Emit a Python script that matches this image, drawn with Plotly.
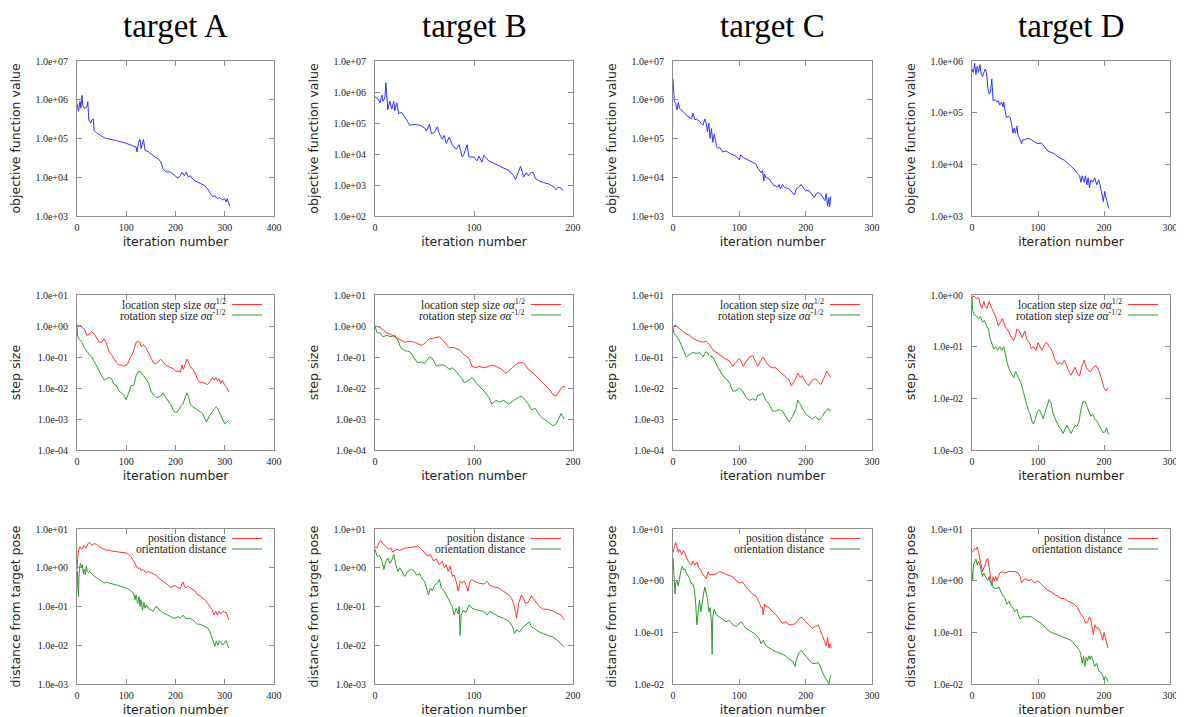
import plotly.graph_objects as go

# ---------------- data (iteration, value) ----------------
A_obj = [(0,8e5),(3,5e5),(6,9e5),(8,6e5),(10,1.3e6),(12,7e5),(15,6e5),(20,6.5e5),(22,9e5),(24,3e5),(28,2.5e5),(30,3e5),(33,3.2e5),(35,1.6e5),(40,1.4e5),(50,1.15e5),(55,1.05e5),(60,1.0e5),(70,9.5e4),(80,8.8e4),(100,7.5e4),(110,6.8e4),(120,6e4),(122,4.5e4),(125,8e4),(128,9.5e4),(130,5.5e4),(135,9.5e4),(138,5e4),(145,4.5e4),(150,4e4),(160,3.2e4),(165,3e4),(170,2.5e4),(175,1.6e4),(180,1.4e4),(190,1.35e4),(200,1.1e4),(205,9.5e3),(210,1.1e4),(213,1.35e4),(218,1.1e4),(222,1.35e4),(226,1.0e4),(230,1.1e4),(235,9e3),(240,8e3),(250,7e3),(260,6e3),(265,5e3),(270,4e3),(275,3.2e3),(280,3.3e3),(285,2.8e3),(290,3e3),(295,2.6e3),(300,2.8e3),(303,2.3e3),(305,2.8e3),(308,2e3),(310,1.8e3)]
B_obj = [(0,7e5),(3,6e5),(5,4.5e5),(7,8e5),(8,5e5),(10,6.5e5),(11,2e6),(12,6e5),(13,2.7e5),(15,5e5),(17,2.8e5),(19,5e5),(20,2.5e5),(22,4.5e5),(24,2e5),(27,2.2e5),(30,1.6e5),(33,1.1e5),(35,8.5e4),(40,9e4),(45,8.5e4),(50,7e4),(52,5.5e4),(55,9e4),(57,4.5e4),(60,5e4),(63,7.5e4),(65,4.5e4),(68,3e4),(70,4e4),(72,2.2e4),(75,3.5e4),(78,2e4),(82,1.4e4),(85,2e4),(88,8e3),(90,1e4),(93,2e4),(95,8e3),(100,8e3),(103,6e3),(105,8.5e3),(108,5.5e3),(110,9e3),(115,6e3),(120,5e3),(125,4e3),(130,3.5e3),(135,3e3),(140,2e3),(142,1.5e3),(145,3e3),(147,4e3),(149,2.5e3),(150,1.8e3),(153,2.5e3),(155,2e3),(158,2.6e3),(160,2.5e3),(162,1.6e3),(165,1.4e3),(170,1.2e3),(175,1.1e3),(180,9e2),(183,7e2),(185,8.5e2),(188,8e2),(190,6.5e2)]
C_obj = [(0,3.5e6),(1,1.5e6),(2,9e5),(4,8e5),(6,5.5e5),(8,8.5e5),(10,6e5),(12,5.5e5),(15,5e5),(18,4.5e5),(20,4e5),(25,3.5e5),(28,3.2e5),(30,4.5e5),(33,3e5),(35,3.2e5),(40,2.8e5),(42,2.5e5),(45,2.2e5),(48,3.2e5),(50,2.5e5),(52,1.5e5),(54,2.5e5),(56,1e5),(58,1.8e5),(60,8e4),(62,1.3e5),(64,9e4),(66,6e4),(68,5.5e4),(70,6e4),(75,4.5e4),(80,4.8e4),(85,4.2e4),(90,3.8e4),(95,3.5e4),(100,2.8e4),(102,3.8e4),(105,3.3e4),(110,3e4),(120,2.5e4),(125,2.2e4),(128,1.7e4),(133,1.3e4),(135,1.5e4),(137,8e3),(138,1.2e4),(140,1e4),(145,9e3),(150,7e3),(152,6e3),(155,6e3),(158,5.5e3),(160,6.5e3),(162,5e3),(165,6.5e3),(168,5.5e3),(175,5e3),(180,4e3),(183,3.5e3),(186,5e3),(190,5.5e3),(193,6.5e3),(196,5.5e3),(200,4.5e3),(205,4.5e3),(210,3.5e3),(213,3e3),(215,3.5e3),(218,4e3),(222,3.8e3),(226,3e3),(229,2.5e3),(231,3.8e3),(233,1.8e3),(235,3e3),(236,1.7e3),(238,3.2e3)]
D_obj = [(0,7e5),(2,6e5),(4,9e5),(6,5.5e5),(8,8e5),(10,6e5),(12,8.5e5),(14,5.5e5),(16,5e5),(18,6e5),(20,7e5),(22,6e5),(24,3e5),(26,2.3e5),(28,2.5e5),(30,4.5e5),(31,2e5),(32,1.7e5),(35,1.8e5),(38,1.6e5),(40,1.7e5),(42,1.4e5),(45,1.6e5),(47,1.3e5),(48,1.6e5),(50,1e5),(52,8e4),(55,8.5e4),(58,8e4),(60,6e4),(62,4e4),(64,5e4),(66,4e4),(68,5.5e4),(70,3.5e4),(73,3e4),(75,2.5e4),(77,3e4),(80,3e4),(85,3.2e4),(90,3e4),(95,2.7e4),(100,2.5e4),(105,2.6e4),(110,2.2e4),(115,1.8e4),(120,1.7e4),(125,1.6e4),(130,1.4e4),(135,1.3e4),(140,1.2e4),(145,1.05e4),(150,9e3),(155,8e3),(160,6.5e3),(163,6e3),(165,4.5e3),(167,6e3),(170,4.5e3),(172,6e3),(174,4e3),(176,5.5e3),(178,3.5e3),(180,5e3),(183,4.5e3),(186,5.5e3),(189,4e3),(192,5e3),(194,4e3),(196,3e3),(198,2.2e3),(199,1.9e3),(201,3e3),(203,2.3e3),(205,2e3),(206,1.7e3),(207,1.4e3)]

A_loc = [(0,1.1),(5,1.0),(8,1.05),(10,0.9),(15,0.8),(20,0.5),(25,0.55),(30,0.65),(35,0.55),(40,0.4),(45,0.3),(50,0.3),(55,0.38),(58,0.33),(62,0.2),(65,0.15),(70,0.12),(75,0.09),(80,0.065),(85,0.055),(90,0.055),(95,0.05),(100,0.055),(103,0.06),(107,0.09),(112,0.12),(117,0.2),(120,0.3),(125,0.32),(128,0.3),(130,0.22),(135,0.25),(140,0.2),(145,0.14),(150,0.1),(155,0.065),(160,0.06),(165,0.07),(170,0.085),(175,0.07),(180,0.055),(185,0.05),(190,0.045),(195,0.042),(200,0.035),(205,0.035),(210,0.033),(213,0.055),(216,0.04),(220,0.06),(223,0.085),(226,0.07),(230,0.05),(235,0.04),(240,0.03),(245,0.018),(250,0.015),(255,0.015),(260,0.014),(265,0.013),(270,0.016),(275,0.022),(278,0.018),(282,0.022),(285,0.017),(288,0.02),(292,0.014),(295,0.018),(300,0.012),(305,0.01),(308,0.0075)]
A_rot = [(0,1.0),(1,0.5),(3,0.4),(6,0.35),(10,0.3),(15,0.2),(20,0.15),(25,0.12),(30,0.1),(35,0.07),(40,0.05),(45,0.035),(50,0.025),(55,0.018),(60,0.02),(65,0.022),(70,0.02),(75,0.013),(80,0.012),(85,0.008),(90,0.007),(95,0.006),(100,0.0042),(105,0.007),(110,0.012),(115,0.012),(120,0.025),(125,0.035),(130,0.032),(135,0.025),(140,0.02),(145,0.015),(150,0.008),(155,0.006),(160,0.005),(165,0.005),(170,0.0055),(175,0.007),(180,0.005),(185,0.004),(190,0.003),(195,0.002),(200,0.0016),(205,0.0018),(210,0.0025),(215,0.003),(220,0.005),(223,0.007),(227,0.005),(230,0.003),(235,0.0025),(240,0.0022),(245,0.002),(250,0.0018),(255,0.0015),(260,0.001),(263,0.0008),(268,0.0012),(273,0.0015),(278,0.002),(282,0.0025),(285,0.0023),(290,0.0015),(295,0.001),(300,0.0007),(305,0.0008),(308,0.0009)]
B_loc = [(0,1.0),(5,0.9),(8,0.75),(12,0.6),(15,0.55),(20,0.45),(25,0.35),(30,0.3),(35,0.32),(40,0.3),(45,0.25),(48,0.24),(52,0.32),(55,0.38),(58,0.4),(62,0.42),(65,0.45),(70,0.3),(75,0.2),(80,0.2),(85,0.17),(90,0.12),(95,0.09),(98,0.05),(102,0.045),(105,0.05),(110,0.045),(115,0.05),(118,0.055),(122,0.05),(125,0.045),(128,0.04),(132,0.03),(135,0.035),(140,0.05),(145,0.065),(150,0.065),(155,0.04),(160,0.03),(165,0.02),(170,0.014),(175,0.01),(180,0.006),(183,0.0055),(186,0.008),(189,0.011),(192,0.011)]
B_rot = [(0,1.0),(2,0.6),(5,0.6),(8,0.45),(12,0.5),(16,0.45),(20,0.5),(23,0.35),(26,0.2),(30,0.16),(35,0.15),(40,0.09),(43,0.065),(47,0.07),(50,0.06),(52,0.075),(55,0.1),(58,0.09),(62,0.05),(65,0.055),(70,0.055),(75,0.04),(78,0.045),(82,0.035),(85,0.025),(88,0.02),(90,0.015),(95,0.018),(98,0.022),(102,0.015),(105,0.012),(110,0.008),(115,0.005),(118,0.003),(122,0.004),(126,0.0035),(130,0.004),(135,0.003),(140,0.004),(145,0.005),(148,0.0055),(152,0.004),(155,0.003),(158,0.002),(162,0.0022),(165,0.0015),(170,0.001),(175,0.0008),(180,0.0006),(183,0.0007),(186,0.0012),(188,0.0015),(191,0.001)]
C_loc = [(0,0.9),(3,1.1),(5,1.0),(10,0.8),(15,0.65),(20,0.55),(25,0.5),(30,0.4),(35,0.35),(40,0.32),(45,0.3),(50,0.32),(55,0.25),(60,0.17),(65,0.14),(70,0.12),(75,0.1),(80,0.085),(85,0.075),(90,0.05),(95,0.07),(100,0.09),(103,0.07),(106,0.05),(110,0.07),(115,0.1),(120,0.11),(125,0.07),(128,0.05),(132,0.075),(136,0.1),(140,0.07),(145,0.05),(150,0.045),(155,0.045),(160,0.035),(165,0.028),(170,0.022),(175,0.018),(178,0.012),(182,0.015),(185,0.02),(188,0.03),(192,0.022),(195,0.025),(200,0.015),(205,0.012),(210,0.018),(215,0.02),(220,0.015),(223,0.013),(227,0.02),(232,0.035),(236,0.025),(238,0.022)]
C_rot = [(0,0.9),(1,0.6),(3,0.55),(8,0.4),(12,0.25),(16,0.15),(20,0.1),(25,0.12),(30,0.14),(35,0.13),(40,0.14),(45,0.1),(50,0.15),(55,0.11),(60,0.1),(65,0.06),(70,0.04),(75,0.025),(80,0.02),(85,0.015),(90,0.008),(95,0.008),(100,0.01),(105,0.008),(110,0.005),(115,0.004),(120,0.0045),(125,0.004),(128,0.006),(132,0.006),(135,0.007),(140,0.004),(145,0.003),(150,0.0018),(155,0.0018),(160,0.002),(165,0.0018),(170,0.0012),(175,0.0008),(180,0.0012),(185,0.002),(188,0.004),(192,0.003),(196,0.002),(200,0.0015),(205,0.0012),(210,0.001),(215,0.0012),(220,0.0009),(225,0.0012),(230,0.0018),(234,0.0022),(236,0.0018),(238,0.002)]
D_loc = [(0,0.9),(3,0.95),(7,0.85),(10,0.9),(12,0.7),(15,0.55),(18,0.75),(20,0.6),(23,0.55),(26,0.75),(30,0.55),(33,0.45),(36,0.38),(40,0.25),(43,0.3),(46,0.35),(50,0.25),(55,0.2),(60,0.15),(63,0.13),(66,0.16),(68,0.22),(72,0.2),(76,0.15),(80,0.2),(83,0.14),(87,0.12),(90,0.09),(93,0.1),(97,0.085),(100,0.12),(103,0.1),(106,0.085),(110,0.11),(113,0.12),(117,0.1),(120,0.09),(123,0.07),(126,0.055),(130,0.045),(133,0.05),(136,0.045),(140,0.055),(143,0.045),(146,0.035),(150,0.028),(153,0.033),(156,0.04),(160,0.03),(163,0.027),(166,0.04),(170,0.055),(173,0.04),(176,0.035),(180,0.033),(184,0.04),(188,0.043),(192,0.035),(195,0.027),(198,0.02),(200,0.016),(203,0.014),(206,0.016)]
D_rot = [(0,0.9),(1,0.5),(3,0.42),(6,0.4),(10,0.35),(13,0.38),(16,0.3),(19,0.32),(22,0.25),(25,0.22),(27,0.15),(30,0.12),(33,0.09),(36,0.1),(39,0.085),(42,0.1),(45,0.085),(48,0.1),(51,0.065),(54,0.045),(57,0.035),(60,0.03),(63,0.025),(66,0.033),(70,0.025),(74,0.02),(78,0.013),(82,0.008),(85,0.006),(88,0.005),(91,0.0035),(93,0.0032),(96,0.004),(99,0.0055),(102,0.006),(105,0.005),(108,0.004),(111,0.0055),(114,0.007),(117,0.0095),(120,0.008),(123,0.005),(126,0.004),(129,0.0032),(132,0.0028),(135,0.0025),(138,0.0021),(141,0.0025),(144,0.003),(147,0.0025),(150,0.0021),(153,0.0025),(156,0.003),(159,0.0028),(162,0.0035),(165,0.006),(168,0.0085),(171,0.0088),(174,0.007),(177,0.006),(180,0.0045),(183,0.005),(186,0.004),(190,0.0035),(195,0.0027),(198,0.0022),(201,0.0022),(204,0.0027),(206,0.0021),(208,0.002)]

A_pos = [(0,0.9),(1,1.5),(2,2.2),(4,3.0),(6,3.5),(10,3.0),(14,3.8),(18,3.2),(22,4.2),(26,4.5),(30,3.8),(35,4.2),(40,4.0),(45,3.5),(50,3.3),(55,3.0),(60,2.8),(65,2.9),(70,2.7),(80,2.6),(90,2.5),(100,2.4),(105,2.2),(110,1.9),(115,1.5),(118,1.2),(122,1.0),(125,0.95),(128,1.0),(130,0.85),(135,0.9),(140,0.75),(145,0.8),(150,0.75),(155,0.7),(160,0.65),(165,0.55),(170,0.5),(175,0.45),(180,0.41),(185,0.36),(190,0.31),(195,0.33),(200,0.35),(205,0.3),(210,0.3),(215,0.43),(220,0.3),(225,0.33),(230,0.3),(235,0.28),(240,0.25),(245,0.2),(250,0.19),(255,0.16),(260,0.15),(265,0.12),(270,0.1),(275,0.08),(278,0.06),(282,0.075),(285,0.06),(288,0.075),(292,0.065),(296,0.075),(300,0.07),(303,0.07),(306,0.055),(308,0.045)]
A_ori = [(0,0.3),(1,0.8),(2,0.3),(3,0.18),(4,0.5),(5,1.0),(7,1.3),(9,1.0),(11,1.2),(13,0.7),(15,0.9),(17,0.65),(19,1.1),(21,0.8),(23,0.75),(26,0.8),(30,0.7),(35,0.6),(40,0.55),(45,0.5),(50,0.45),(55,0.4),(60,0.42),(65,0.4),(70,0.38),(80,0.36),(90,0.33),(100,0.3),(105,0.28),(110,0.25),(115,0.22),(118,0.15),(120,0.2),(123,0.12),(126,0.18),(128,0.1),(130,0.15),(133,0.08),(136,0.13),(138,0.09),(141,0.11),(145,0.09),(150,0.08),(155,0.075),(160,0.1),(165,0.09),(170,0.075),(175,0.07),(180,0.065),(185,0.06),(190,0.055),(195,0.05),(200,0.05),(205,0.055),(210,0.05),(215,0.06),(220,0.05),(225,0.048),(230,0.05),(235,0.045),(240,0.04),(245,0.035),(250,0.035),(255,0.032),(260,0.03),(265,0.028),(270,0.022),(275,0.015),(278,0.011),(280,0.0095),(283,0.013),(286,0.01),(289,0.013),(292,0.012),(295,0.01),(300,0.012),(303,0.013),(306,0.01),(308,0.0085)]
B_pos = [(0,3.5),(2,3.2),(4,4.5),(6,5.0),(8,4.2),(10,3.8),(12,3.5),(14,3.0),(16,3.3),(18,2.5),(20,2.8),(22,3.0),(25,2.8),(28,3.0),(30,3.2),(35,3.3),(40,3.5),(43,3.6),(46,3.2),(50,2.5),(53,2.0),(56,2.2),(59,1.5),(62,1.7),(65,1.2),(68,1.5),(70,1.0),(72,1.2),(74,0.8),(76,1.1),(78,0.6),(80,0.65),(82,0.45),(84,0.25),(86,0.45),(88,0.4),(90,0.45),(92,0.35),(94,0.25),(96,0.45),(98,0.5),(100,0.45),(105,0.4),(110,0.38),(113,0.45),(116,0.35),(120,0.32),(125,0.3),(130,0.25),(135,0.2),(138,0.16),(140,0.12),(142,0.07),(143,0.05),(145,0.12),(148,0.2),(150,0.16),(152,0.12),(155,0.13),(158,0.19),(160,0.16),(163,0.13),(166,0.1),(170,0.085),(175,0.085),(180,0.075),(185,0.065),(188,0.06),(190,0.05),(191,0.045)]
B_ori = [(0,3.0),(2,2.0),(5,2.0),(7,1.5),(9,0.9),(11,1.5),(13,1.8),(15,1.3),(17,1.6),(19,2.2),(21,1.2),(23,0.8),(25,1.0),(28,0.75),(30,0.6),(33,0.8),(36,0.9),(39,0.85),(42,0.65),(45,0.7),(48,0.5),(50,0.45),(52,0.3),(54,0.2),(56,0.3),(58,0.25),(60,0.35),(63,0.4),(65,0.5),(67,0.3),(70,0.25),(73,0.18),(76,0.12),(78,0.1),(80,0.06),(82,0.09),(84,0.065),(85,0.1),(86,0.018),(87,0.06),(89,0.08),(92,0.07),(95,0.11),(98,0.09),(100,0.085),(105,0.08),(110,0.075),(113,0.06),(116,0.075),(120,0.065),(125,0.055),(130,0.05),(133,0.045),(136,0.04),(139,0.03),(141,0.02),(143,0.025),(146,0.022),(150,0.03),(153,0.035),(156,0.04),(158,0.03),(162,0.025),(166,0.022),(170,0.02),(175,0.018),(180,0.016),(185,0.013),(188,0.011),(191,0.009)]
C_pos = [(0,3.5),(2,4.5),(4,5.5),(6,4.5),(8,3.5),(10,4.0),(13,3.2),(16,3.8),(19,3.0),(22,2.5),(25,2.2),(28,2.0),(30,2.4),(33,2.0),(36,2.3),(39,1.8),(42,1.6),(45,1.3),(48,1.2),(50,1.1),(53,1.5),(55,1.3),(60,1.3),(65,1.35),(70,1.5),(75,1.4),(80,1.3),(85,1.25),(90,1.2),(95,1.0),(100,0.9),(105,0.95),(110,0.75),(115,0.65),(120,0.55),(125,0.5),(130,0.38),(133,0.3),(135,0.3),(136,0.22),(138,0.35),(140,0.32),(145,0.3),(150,0.25),(155,0.22),(160,0.18),(165,0.15),(170,0.16),(175,0.14),(180,0.14),(185,0.15),(190,0.18),(193,0.2),(197,0.18),(200,0.16),(205,0.14),(210,0.12),(215,0.13),(219,0.14),(222,0.11),(225,0.09),(228,0.07),(231,0.055),(233,0.08),(235,0.05),(237,0.06),(238,0.05)]
C_ori = [(0,2.8),(1,1.5),(2,0.9),(3,0.55),(4,0.9),(6,1.0),(8,0.8),(10,1.2),(12,1.6),(14,1.9),(16,1.6),(18,1.7),(20,1.4),(22,1.3),(25,1.1),(27,0.9),(30,0.85),(32,0.7),(34,0.4),(36,0.14),(38,0.3),(40,0.42),(42,0.25),(44,0.4),(46,0.55),(48,0.75),(50,0.6),(52,0.45),(54,0.25),(56,0.3),(58,0.15),(59,0.038),(60,0.2),(62,0.28),(65,0.22),(70,0.2),(75,0.18),(80,0.16),(85,0.17),(90,0.14),(95,0.13),(100,0.15),(103,0.16),(106,0.14),(110,0.12),(115,0.11),(120,0.1),(125,0.09),(130,0.075),(133,0.06),(136,0.07),(140,0.055),(145,0.05),(150,0.045),(155,0.042),(160,0.04),(165,0.038),(170,0.035),(175,0.03),(180,0.028),(184,0.022),(186,0.03),(190,0.04),(193,0.045),(196,0.04),(200,0.035),(205,0.03),(210,0.025),(215,0.025),(219,0.026),(222,0.022),(226,0.016),(230,0.013),(233,0.011),(235,0.01),(236,0.012),(238,0.015)]
D_pos = [(0,3.5),(2,3.8),(4,4.2),(6,4.0),(8,4.5),(10,3.5),(12,2.5),(14,2.0),(16,1.5),(18,1.8),(20,2.0),(22,2.5),(24,2.7),(26,1.8),(28,1.3),(30,0.8),(32,1.2),(34,1.0),(36,1.2),(38,1.0),(40,1.2),(42,1.4),(45,1.5),(50,1.4),(55,1.5),(60,1.5),(65,1.5),(70,1.4),(73,1.2),(75,0.9),(77,1.0),(80,1.1),(85,1.0),(90,1.05),(95,0.9),(100,1.0),(105,0.85),(110,0.75),(115,0.65),(120,0.6),(125,0.55),(130,0.5),(135,0.45),(140,0.45),(145,0.4),(150,0.38),(155,0.35),(160,0.3),(165,0.22),(168,0.2),(170,0.18),(172,0.15),(175,0.16),(178,0.2),(180,0.18),(182,0.12),(184,0.09),(186,0.14),(189,0.12),(192,0.12),(195,0.1),(198,0.07),(200,0.1),(202,0.08),(204,0.06),(206,0.05)]
D_ori = [(0,1.5),(1,1.0),(2,2.0),(4,2.3),(6,2.6),(8,2.0),(10,2.4),(12,2.0),(14,1.6),(16,1.2),(18,1.4),(20,1.2),(22,1.1),(24,1.0),(26,1.2),(28,0.9),(30,0.9),(32,0.75),(35,0.7),(38,0.72),(41,0.75),(44,0.6),(47,0.5),(50,0.45),(53,0.35),(56,0.4),(59,0.32),(62,0.3),(65,0.25),(68,0.28),(70,0.22),(73,0.18),(76,0.2),(80,0.2),(85,0.2),(90,0.2),(95,0.18),(100,0.16),(105,0.15),(110,0.13),(115,0.11),(120,0.1),(125,0.095),(130,0.09),(135,0.085),(140,0.08),(145,0.075),(150,0.07),(155,0.06),(160,0.05),(163,0.045),(165,0.035),(167,0.025),(169,0.035),(171,0.022),(173,0.033),(175,0.028),(177,0.035),(179,0.03),(181,0.035),(183,0.028),(186,0.022),(189,0.025),(192,0.018),(195,0.017),(198,0.015),(200,0.012),(202,0.014),(204,0.013),(206,0.011)]

col_titles = ["target A", "target B", "target C", "target D"]
row_titles = ["objective function value", "step size", "distance from target pose"]
x_ranges = [(0, 400), (0, 200), (0, 300), (0, 300)]
y_exp_ranges = [[(3, 7), (2, 7), (3, 7), (3, 6)],
                [(-4, 1), (-4, 1), (-4, 1), (-3, 0)],
                [(-3, 1), (-3, 1), (-2, 1), (-2, 1)]]
legend_row2 = ["location step size <i>σα</i><sup>1/2</sup>", "rotation step size <i>σα</i><sup>-1/2</sup>"]
legend_row3 = ["position distance", "orientation distance"]

panels = [
    [[A_obj], [B_obj], [C_obj], [D_obj]],
    [[A_loc, A_rot], [B_loc, B_rot], [C_loc, C_rot], [D_loc, D_rot]],
    [[A_pos, A_ori], [B_pos, B_ori], [C_pos, C_ori], [D_pos, D_ori]],
]

# ---------------- layout geometry ----------------
# the page body has an 8px margin, so the figure is drawn 8px smaller and shifted
OFF = 8
W, H = 1184 - OFF, 717 - OFF
col_px = [(77, 274), (375, 573), (673, 872), (972, 1170)]   # in page pixels
row_px = [(61, 216), (295, 450), (529, 684)]
BLUE, RED, GREEN = "#3030ff", "#ff3030", "#2a9a2a"
FRAME = "#8c8c8c"
SERIF = "Liberation Serif, Times New Roman, serif"
SANS = "DejaVu Sans, Verdana, sans-serif"

fig = go.Figure()
layout = dict(width=W, height=H, margin=dict(l=0, r=0, t=0, b=0, autoexpand=False),
              paper_bgcolor="white", plot_bgcolor="white", showlegend=False)
annotations, shapes = [], []

for r in range(3):
    for c in range(4):
        k = r * 4 + c + 1
        xn = "x" if k == 1 else f"x{k}"
        yn = "y" if k == 1 else f"y{k}"
        colors = [BLUE] if r == 0 else [RED, GREEN]
        for series, colr in zip(panels[r][c], colors):
            fig.add_trace(go.Scatter(x=[p[0] for p in series], y=[p[1] for p in series],
                                     mode="lines", line=dict(color=colr, width=1),
                                     xaxis=xn, yaxis=yn, hoverinfo="skip"))
        x0p, x1p = col_px[c][0] - OFF, col_px[c][1] - OFF
        y0p, y1p = row_px[r][0] - OFF, row_px[r][1] - OFF
        lo, hi = y_exp_ranges[r][c]
        xr = x_ranges[c]
        common = dict(showline=True, linecolor=FRAME, linewidth=1, mirror="allticks",
                      ticks="inside", ticklen=5, tickcolor=FRAME, showgrid=False,
                      zeroline=False, automargin=False,
                      tickfont=dict(family=SERIF, size=10, color="#222"))
        layout["xaxis" if k == 1 else f"xaxis{k}"] = dict(
            domain=[x0p / W, x1p / W], anchor=yn, range=list(xr),
            tickvals=list(range(xr[0], xr[1] + 1, 100)),
            ticklabelstandoff=2,
            title=dict(text="iteration number", font=dict(family=SANS, size=12.5, color="#222"), standoff=5),
            **common)
        layout["yaxis" if k == 1 else f"yaxis{k}"] = dict(
            domain=[1 - y1p / H, 1 - y0p / H], anchor=xn, type="log", range=[lo, hi],
            tickvals=[10.0 ** e for e in range(lo, hi + 1)],
            ticktext=[f"1.0e{e:+03d}" for e in range(lo, hi + 1)],
            ticklabelstandoff=6,
            title=dict(text=row_titles[r], font=dict(family=SANS, size=12.5, color="#222"), standoff=12),
            **common)
        if r > 0:
            texts = legend_row2 if r == 1 else legend_row3
            wpx = x1p - x0p
            hpx = y1p - y0p
            for i, (t, colr) in enumerate(zip(texts, [RED, GREEN])):
                yy = 1 - (9.5 + 10.5 * i) / hpx
                annotations.append(dict(text=t, xref=f"{xn} domain", yref=f"{yn} domain",
                                        x=1 - 46 / wpx, y=yy, xanchor="right", yanchor="middle",
                                        showarrow=False, font=dict(family=SERIF, size=11.5, color="#222")))
                shapes.append(dict(type="line", xref=f"{xn} domain", yref=f"{yn} domain",
                                   x0=1 - 42 / wpx, x1=1 - 12 / wpx, y0=yy, y1=yy,
                                   line=dict(color=colr, width=1)))

for c, t in enumerate(col_titles):
    x0p, x1p = col_px[c][0] - OFF, col_px[c][1] - OFF
    annotations.append(dict(text=t, xref="paper", yref="paper", x=(x0p + x1p) / 2 / W,
                            y=1 - (26 - OFF) / H, xanchor="center", yanchor="middle", showarrow=False,
                            font=dict(family=SERIF, size=33, color="black")))

layout["annotations"] = annotations
layout["shapes"] = shapes
fig.update_layout(**layout)
fig.write_html("out.html")
